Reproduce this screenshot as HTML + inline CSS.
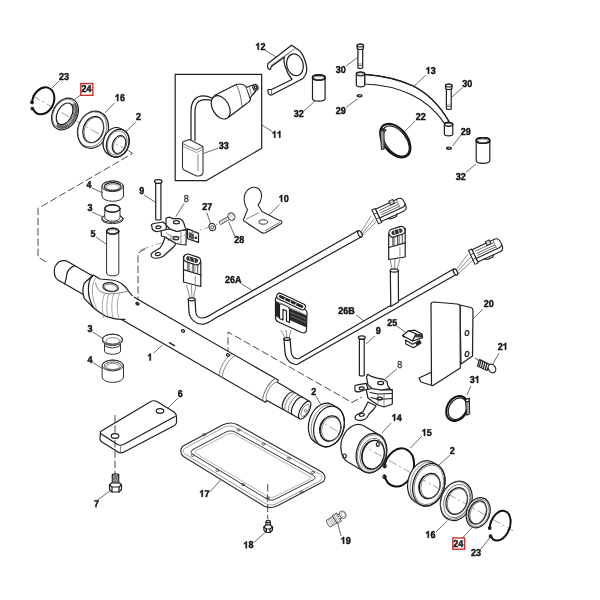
<!DOCTYPE html>
<html><head><meta charset="utf-8"><style>
html,body{margin:0;padding:0;background:#fff;overflow:hidden;}
svg{display:block;will-change:transform;}
text{font-family:"Liberation Sans",sans-serif;font-weight:bold;font-size:10px;text-rendering:geometricPrecision;fill:#151515;stroke:#151515;stroke-width:0.45px;letter-spacing:0px;}
.o{fill:none;stroke:#1e1e1e;stroke-width:1.2;stroke-linejoin:round;stroke-linecap:round;}
.ow{fill:#fff;stroke:#1e1e1e;stroke-width:1.2;stroke-linejoin:round;stroke-linecap:round;}
.t{fill:none;stroke:#5a5a5a;stroke-width:0.7;}
.tw{fill:#fff;stroke:#5a5a5a;stroke-width:0.7;}
.l{fill:none;stroke:#3a3a3a;stroke-width:0.75;}
.d{fill:none;stroke:#4a4a4a;stroke-width:1;stroke-dasharray:7.5 2.8;}
.c{fill:none;stroke:#777;stroke-width:0.7;stroke-dasharray:9 3 2 3;}
.k{fill:none;stroke:#111;stroke-width:2;stroke-linecap:round;}
.kw{fill:#fff;stroke:#111;stroke-width:1.8;}
.w{fill:#fff;stroke:none;}
</style></head><body>
<svg width="600" height="600" viewBox="0 0 600 600">
<path d="M32 95.5 L132 153" class="c" />
<path d="M128.5 150.5 L132.5 153.5 L38 208.5 L38 257 L47 262.5" class="d" />
<path d="M145 249 L138 253 L138 301" class="d" />
<path d="M228 355 L228 332 L352 402.5 L362 397" class="d" />
<path d="M300 410 L513 530.8" class="c" />
<g transform="translate(140 315.4) rotate(29.9)">
<path d="M-20 -12.8 L152 -12.8 L152 -10.5 L190 -10 L190 10 L152 10.5 L152 12.8 L-20 12.8 Z" class="w" />
<path d="M-20 -12.8 L152 -12.8 L152.5 -10.5 L190 -10" class="o" stroke-width="1.3"/>
<path d="M-20 12.8 L152 12.8 L152.5 10.5 L190 10" class="o" stroke-width="1.3"/>
<path d="M100 -12.8 A4 12.8 0 0 0 100 12.8" class="t" style="stroke:#777;stroke-width:0.8"/>
<path d="M103.5 -12.8 A4 12.8 0 0 0 103.5 12.8" class="t" style="stroke:#777;stroke-width:0.8"/>
<path d="M150 -12.8 A4 12.8 0 0 0 150 12.8" class="t" style="stroke:#666;stroke-width:0.9"/>
<path d="M152.5 -10.5 A4 10.5 0 0 0 152.5 10.5" class="t" style="stroke:#777;stroke-width:0.8"/>
<path d="M171 -10 A4 10 0 0 0 171 10" class="o" stroke-width="1.1"/>
<path d="M174 -10 A4 10 0 0 0 174 10" class="t" />
<path d="M178 -10 A4 10 0 0 0 178 10" class="t" />
<path d="M181.5 -10 A4 10 0 0 0 181.5 10" class="o" stroke-width="1.1"/>
<ellipse cx="190" cy="0" rx="4.3" ry="10" class="ow"/>
<ellipse cx="190.5" cy="0" rx="2.8" ry="6.8" class="t"/>
<circle cx="191" cy="0" r="1.3" class="t"/>
<ellipse cx="-8" cy="-8.9" rx="1.7" ry="1.2" class="o" style="fill:#555"/>
<ellipse cx="45" cy="-8" rx="1.6" ry="1.2" class="o"/>
<ellipse cx="96" cy="-9.5" rx="1.6" ry="1.2" class="o"/>
<path d="M39 9 L45 9" class="o" stroke-width="1.6"/>
</g>
<path d="M67.2 261.2 L93.5 276.4 L86 296 L58 280 C56.5 279 55.3 277.5 54.8 275.5 C54 272 54.2 268 55.9 265.3 C57.5 262.5 61 260.5 64.5 260.6 C65.5 260.7 66.5 260.9 67.2 261.2 Z" class="ow" stroke-width="1.3"/>
<path d="M74.7 265.6 C70 267.5 67.2 271 66.7 275 C66.3 279 65.2 282 64.7 283.8" class="o" stroke-width="1.6"/>
<path d="M93.3 275 L100 279 C104 279.5 108 279.8 111.7 280 C116 280.5 120 282 123.3 285 C125.5 287 127.5 289 128.3 290.8 L132 295.5 L134 296.5 L134 320.5 L125 319.3 C120 319.3 116 319 113.3 318.3 L106.7 316.7 C101 313.5 96 310 93.3 307.5 L84.2 298.3 C82.8 294 82.6 288 84.2 283.3 Z" class="w" />
<path d="M132 295.5 L128.3 290.8 C127.5 289 125.5 287 123.3 285 C120 282 116 280.5 111.7 280 C108 279.8 104 279.5 100 279 L93.3 275 L84.2 283.3 C82.6 288 82.8 294 84.2 298.3 L93.3 307.5 C96 310 101 313.5 106.7 316.7 L113.3 318.3 C116 319 120 319.3 125 319.3" class="o" stroke-width="1.3"/>
<path d="M93.3 275.3 C87.5 280 86 295 93.3 307.3" class="o" stroke-width="0.9"/>
<path d="M96.5 277.2 C91.5 282 90.5 296 96.8 309.5" class="t" style="stroke:#777;stroke-width:0.65"/>
<path d="M95.5 282.5 C96.3 286.5 97.8 289.8 100 291.3 C104 293.5 108 294 112 293.8 C117 293.5 122 293 128.3 290.8" class="t" style="stroke:#555;stroke-width:0.75"/>
<ellipse cx="110.6" cy="287.2" rx="7.8" ry="4.4" transform="rotate(10 110.6 287.2)" class="ow" stroke-width="1.3"/>
<ellipse cx="110.8" cy="287.7" rx="6.4" ry="3.3" transform="rotate(10 110.8 287.7)" class="t" />
<path d="M104.5 293.8 C101.7 300 101.7 311 103.7 318" class="t" style="stroke:#777;stroke-width:0.65"/>
<path d="M109 293.8 C106.2 300 106.2 311 108.2 318" class="t" style="stroke:#777;stroke-width:0.65"/>
<path d="M114 293.8 C111.2 300 111.2 311 113.2 318" class="t" style="stroke:#777;stroke-width:0.65"/>
<path d="M119.5 293.8 C116.7 300 116.7 311 118.7 318" class="t" style="stroke:#777;stroke-width:0.65"/>
<g transform="translate(43.2 100.8) rotate(24)">
<path d="M-9.27 6.57 A10.5 14 0 1 1 -6.17 11.33" class="k" />
<circle cx="-9.6" cy="6" r="1.3" class="o" stroke-width="1"/>
<circle cx="-6.8" cy="11.6" r="1.3" class="o" stroke-width="1"/>
</g>
<ellipse cx="65" cy="114" rx="12.3" ry="16.8" transform="rotate(28 65 114)" class="ow" stroke-width="1.8"/>
<ellipse cx="64.5" cy="113.7" rx="11" ry="15.4" transform="rotate(28 64.5 113.7)" class="t" />
<path d="M72.44 104.36 A8.05 12.45 28 0 1 57.46 123.64" class="o" style="stroke:#2a2a2a;stroke-width:0.75"/>
<path d="M73.37 103.94 A8.9 13.3 28 0 1 57.23 124.46" class="o" style="stroke:#2a2a2a;stroke-width:0.75"/>
<path d="M74.29 103.52 A9.75 14.15 28 0 1 57.01 125.28" class="o" style="stroke:#2a2a2a;stroke-width:0.75"/>
<path d="M75.22 103.1 A10.6 15 28 0 1 56.78 126.1" class="o" style="stroke:#2a2a2a;stroke-width:0.75"/>
<ellipse cx="64.6" cy="113.8" rx="7.2" ry="11.6" transform="rotate(28 64.6 113.8)" class="o" stroke-width="1.1"/>
<ellipse cx="93" cy="129.7" rx="15" ry="19" transform="rotate(20 93 129.7)" class="ow" stroke-width="1.5"/>
<ellipse cx="92.2" cy="129.3" rx="14" ry="18" transform="rotate(20 92.2 129.3)" class="t" />
<ellipse cx="93.2" cy="129.6" rx="10" ry="13.5" transform="rotate(20 93.2 129.6)" class="o" />
<ellipse cx="94" cy="130" rx="9.5" ry="13" transform="rotate(20 94 130)" class="t" />
<path d="M111.92 156.21 L108.62 154.51 A11 14.3 20 0 1 120.38 128.49 L123.68 130.19 A11 14.3 20 0 1 111.92 156.21 Z" class="ow" stroke-width="1.5"/>
<ellipse cx="117.8" cy="143.2" rx="11" ry="14.3" transform="rotate(20 117.8 143.2)" class="o" stroke-width="1.5"/>
<ellipse cx="117.2" cy="142.9" rx="9.5" ry="12.5" transform="rotate(20 117.2 142.9)" class="t" />
<ellipse cx="119" cy="144.6" rx="6.4" ry="9.3" transform="rotate(20 119 144.6)" class="o" stroke-width="1.2"/>
<ellipse cx="119.8" cy="145" rx="6" ry="8.8" transform="rotate(20 119.8 145)" class="t" />
<path d="M123.5 186.3 L123.5 196 A10.8 5.3 0 0 1 101.9 196 L101.9 186.3 A10.8 5.3 0 0 1 123.5 186.3 Z" class="ow" style="stroke:#333;stroke-width:1"/>
<ellipse cx="112.7" cy="186.3" rx="10.8" ry="5.3" transform="rotate(0 112.7 186.3)" class="o" style="stroke:#333;stroke-width:1"/>
<ellipse cx="112.7" cy="186.7" rx="8.5" ry="4" transform="rotate(0 112.7 186.7)" class="o" style="stroke:#222;stroke-width:1.2"/>
<ellipse cx="112.7" cy="187.1" rx="6.7" ry="3.1" transform="rotate(0 112.7 187.1)" class="t" />
<path d="M122.9 218.4 L122.9 219.6 A10.5 4 0 0 1 101.9 219.6 L101.9 218.4 A10.5 4 0 0 1 122.9 218.4 Z" class="ow" style="stroke:#333;stroke-width:1"/>
<ellipse cx="112.4" cy="218.4" rx="10.5" ry="4" transform="rotate(0 112.4 218.4)" class="o" style="stroke:#333;stroke-width:1"/>
<path d="M120 208.5 L120 217.5 A7.6 3.7 0 0 1 104.8 217.5 L104.8 208.5 A7.6 3.7 0 0 1 120 208.5 Z" class="ow" style="stroke:#333;stroke-width:1"/>
<ellipse cx="112.4" cy="208.5" rx="7.6" ry="3.7" transform="rotate(0 112.4 208.5)" class="o" style="stroke:#333;stroke-width:1"/>
<ellipse cx="112.4" cy="208.5" rx="7.6" ry="3.7" transform="rotate(0 112.4 208.5)" class="o" style="stroke:#222;stroke-width:1.2"/>
<path d="M118.8 231.2 L118.8 273 A6.1 2.9 0 0 1 106.6 273 L106.6 231.2 A6.1 2.9 0 0 1 118.8 231.2 Z" class="ow" style="stroke:#333;stroke-width:1"/>
<ellipse cx="112.7" cy="231.2" rx="6.1" ry="2.9" transform="rotate(0 112.7 231.2)" class="o" style="stroke:#333;stroke-width:1"/>
<ellipse cx="112.7" cy="231.2" rx="6.1" ry="2.9" transform="rotate(0 112.7 231.2)" class="o" style="stroke:#1a1a1a;stroke-width:1.5"/>
<ellipse cx="112.7" cy="231.6" rx="4.5" ry="1.9" transform="rotate(0 112.7 231.6)" class="t" />
<path d="M175.2 74.4 L261.7 74.4 L261.7 148.3 L206.5 180.6 L175.2 180.6 Z" class="o" stroke-width="1.4"/>
<path d="M212 98 C205 95 198.5 95.5 194.5 99.5 C191.8 102.5 191 106 191 112 L191 141.5" class="o" stroke-width="1"/>
<path d="M212.5 100.5 C206 99 200.5 99.5 197.5 102.5 C195.5 105 195 108 195 113 L195 140.5" class="o" stroke-width="1"/>
<path d="M214.5 95.5 L236 84.5 C240 83.5 244 84 246.5 87.5 L250.5 99.5 C249.5 102 248 103 246 104 L229 117 Z" class="ow" stroke-width="1.1"/>
<path d="M236 84.5 C239.5 90 241.5 99 242 107.5" class="t" style="stroke:#444;stroke-width:0.8"/>
<path d="M246.5 87.5 L250 86 L253.5 85 L255.5 91.5 L252.5 95 L250.5 97.5" class="ow" stroke-width="1"/>
<path d="M249.5 86.5 L251.5 96" class="t" />
<ellipse cx="255.4" cy="87.4" rx="2.5" ry="3.1" transform="rotate(-20 255.4 87.4)" class="ow" stroke-width="1"/>
<ellipse cx="255.6" cy="87.4" rx="1.1" ry="1.5" transform="rotate(-20 255.6 87.4)" class="o" stroke-width="0.9"/>
<ellipse cx="220.7" cy="107.3" rx="8.2" ry="12.6" transform="rotate(-30 220.7 107.3)" class="ow" stroke-width="1.1"/>
<path d="M183.5 141.5 L189.5 139.5 L203 146.5 L203 172 C203 174.5 201 176 198 176 L196.5 176 L184 170 C183 169.5 182.5 168.5 182.5 167 L182.5 143 C182.5 142.3 183 141.7 183.5 141.5 Z" class="ow" style="stroke:#333;stroke-width:1.1"/>
<path d="M182.5 143.5 L196.5 150 L203 146.5" class="t" style="stroke:#444;stroke-width:0.8"/>
<path d="M183 146.3 L196.5 152.6 L203 149.3" class="t" style="stroke:#777;stroke-width:0.7"/>
<path d="M198 154 L198 171" class="t" style="stroke:#777;stroke-width:0.9"/>
<path d="M268 63.5 L291.5 45.3 L298 49.5 C301 51.5 304 56 306 64 C307.5 70 307 73.5 303 78.5 L271.5 95 C269.5 95.5 268 93.5 268 91.5 L268 89.5 L271.5 89.5 L292 79.5 C289.5 76.5 286.5 71 285 66 C283.8 62 283.5 59.5 284.5 57 L271 66.8 L270.5 69.5 C268.5 69.8 267.5 68 267.5 66.5 Z" class="ow" stroke-width="1.2"/>
<path d="M271 65.5 L295.5 48.2 L298 49.5" class="t" style="stroke:#555;stroke-width:0.8"/>
<path d="M271.5 89.5 L271.5 95" class="t" style="stroke:#555;stroke-width:0.8"/>
<ellipse cx="295" cy="64.8" rx="8.2" ry="11" transform="rotate(-14 295 64.8)" class="o" stroke-width="1.2"/>
<path d="M284.5 57 C286 55 287.5 54 289 53.8" class="t" />
<path d="M325.1 77.5 L325.1 98.5 A6.3 2.6 0 0 1 312.5 98.5 L312.5 77.5 A6.3 2.6 0 0 1 325.1 77.5 Z" class="ow" />
<ellipse cx="318.8" cy="77.5" rx="6.3" ry="2.6" transform="rotate(0 318.8 77.5)" class="o" />
<ellipse cx="318.8" cy="77.5" rx="6.3" ry="2.6" transform="rotate(0 318.8 77.5)" class="o" style="stroke:#1a1a1a;stroke-width:1.5"/>
<ellipse cx="318.8" cy="77.9" rx="4.6" ry="1.7" transform="rotate(0 318.8 77.9)" class="t" />
<path d="M489.8 140.5 L489.8 160.5 A6.8 2.8 0 0 1 476.2 160.5 L476.2 140.5 A6.8 2.8 0 0 1 489.8 140.5 Z" class="ow" />
<ellipse cx="483" cy="140.5" rx="6.8" ry="2.8" transform="rotate(0 483 140.5)" class="o" />
<ellipse cx="483" cy="140.5" rx="6.8" ry="2.8" transform="rotate(0 483 140.5)" class="o" style="stroke:#1a1a1a;stroke-width:1.6"/>
<ellipse cx="483" cy="140.9" rx="5" ry="1.9" transform="rotate(0 483 140.9)" class="t" />
<path d="M362.7 48 L362.7 67.5 A2.4 1 0 0 1 357.9 67.5 L357.9 48 A2.4 1 0 0 1 362.7 48 Z" class="ow" />
<ellipse cx="360.3" cy="48" rx="2.4" ry="1" transform="rotate(0 360.3 48)" class="o" />
<path d="M363.5 45.5 L363.5 48 A3.2 1.5 0 0 1 357.1 48 L357.1 45.5 A3.2 1.5 0 0 1 363.5 45.5 Z" class="ow" />
<ellipse cx="360.3" cy="45.5" rx="3.2" ry="1.5" transform="rotate(0 360.3 45.5)" class="o" />
<path d="M358 64 L362.6 64 M358 65.5 L362.6 65.5" class="t" />
<path d="M451.2 88 L451.2 108.5 A2.4 1 0 0 1 446.4 108.5 L446.4 88 A2.4 1 0 0 1 451.2 88 Z" class="ow" />
<ellipse cx="448.8" cy="88" rx="2.4" ry="1" transform="rotate(0 448.8 88)" class="o" />
<path d="M452 85.5 L452 88 A3.2 1.5 0 0 1 445.6 88 L445.6 85.5 A3.2 1.5 0 0 1 452 85.5 Z" class="ow" />
<ellipse cx="448.8" cy="85.5" rx="3.2" ry="1.5" transform="rotate(0 448.8 85.5)" class="o" />
<path d="M446.5 105 L451 105 M446.5 106.5 L451 106.5" class="t" />
<ellipse cx="359.6" cy="95.8" rx="3.1" ry="1.7" transform="rotate(0 359.6 95.8)" class="w" style="fill:#2a2a2a"/>
<ellipse cx="359.9" cy="95.6" rx="1.3" ry="0.6" transform="rotate(0 359.9 95.6)" class="w" style="fill:#bbb"/>
<ellipse cx="449" cy="148.3" rx="3.1" ry="1.7" transform="rotate(0 449 148.3)" class="w" style="fill:#2a2a2a"/>
<ellipse cx="449.3" cy="148.1" rx="1.3" ry="0.6" transform="rotate(0 449.3 148.1)" class="w" style="fill:#bbb"/>
<path d="M364.7 74.3 C380 75.5 398 79 412 85.5 C428 93 440 106 449 121.5 L444.5 123.3 C436 111 425 101 411 94.5 C397 88 380 84.5 364.7 84 Z" class="ow" stroke-width="0.9"/>
<path d="M364.7 74.3 C380 75.5 398 79 412 85.5 C428 93 440 106 449 121.5" class="o" stroke-width="1.7"/>
<path d="M364.7 74 L364.7 85 A4.2 1.8 0 0 1 356.3 85 L356.3 74 A4.2 1.8 0 0 1 364.7 74 Z" class="ow" />
<ellipse cx="360.5" cy="74" rx="4.2" ry="1.8" transform="rotate(0 360.5 74)" class="o" />
<ellipse cx="360.5" cy="74" rx="3" ry="1.2" transform="rotate(0 360.5 74)" class="t" />
<path d="M452.8 124.5 L452.8 134 A4.2 1.8 0 0 1 444.4 134 L444.4 124.5 A4.2 1.8 0 0 1 452.8 124.5 Z" class="ow" />
<ellipse cx="448.6" cy="124.5" rx="4.2" ry="1.8" transform="rotate(0 448.6 124.5)" class="o" />
<ellipse cx="448.6" cy="124.5" rx="3" ry="1.2" transform="rotate(0 448.6 124.5)" class="t" />
<ellipse cx="395.3" cy="140.6" rx="19.3" ry="12" transform="rotate(52 395.3 140.6)" class="k" stroke-width="1.6"/>
<ellipse cx="395.8" cy="141" rx="17.5" ry="10.3" transform="rotate(52 395.8 141)" class="o" stroke-width="0.9"/>
<path d="M408.74 142.13 A18.4 11.1 52 0 1 386.75 147.63" class="o" stroke-width="0.8"/>
<path d="M380.3 131 L384 130 L384.2 149 L381.5 149.5 Z" class="w" style="fill:#999;stroke:#222;stroke-width:1"/>
<path d="M380.5 131 L383 128.5 L386 130 L384 132" class="o" stroke-width="1"/>
<path d="M160.9 182.5 L160.9 219 A2.6 1 0 0 1 155.7 219 L155.7 182.5 A2.6 1 0 0 1 160.9 182.5 Z" class="ow" />
<ellipse cx="158.3" cy="182.5" rx="2.6" ry="1" transform="rotate(0 158.3 182.5)" class="o" />
<ellipse cx="158.3" cy="181.5" rx="3.7" ry="1.8" transform="rotate(0 158.3 181.5)" class="ow" />
<path d="M165 237 L171 240.5 L176 243.5 L174 246.5 L168 252 L163.5 256 C161 258 156 258.8 153 257.8 C150.5 256.8 150.5 254 152.5 252.5 L160 248 L163 243 Z" class="ow" stroke-width="1.3"/>
<ellipse cx="157.9" cy="254.1" rx="2.5" ry="1.5" transform="rotate(-10 157.9 254.1)" class="o" stroke-width="1"/>
<path d="M161 230 L166 229.5 L170 229 L177 231.5 L186.3 229.4 L186 245 L181 244.5 L176 243.5 L171 240.5 L165 237 L161.5 236 Z" class="ow" stroke-width="1.3"/>
<path d="M166 233 L171 236 L178 237 M171 236 L171 240.5 M181 232 L181 244.5" class="t" />
<ellipse cx="176" cy="238.2" rx="2.8" ry="1.6" transform="rotate(0 176 238.2)" class="o" stroke-width="1"/>
<path d="M187.6 228.9 L198.5 233.4 L198.5 242.4 L187.6 238.8 Z" class="ow" stroke-width="1.3"/>
<path d="M189 232 L194 234 L194 240 L189 238 Z" class="w" style="fill:#555"/>
<ellipse cx="195.8" cy="237.8" rx="1.3" ry="1.3" transform="rotate(0 195.8 237.8)" class="w" style="fill:#222"/>
<path d="M152 226.5 C150.5 225.5 151.5 224 154 223.5 L163 222 L166.5 225 L166 229.5 L158 231.5 C155 231.8 152 230 152 228 Z" class="ow" stroke-width="1.3"/>
<ellipse cx="158.4" cy="227.3" rx="2.5" ry="1.4" transform="rotate(-8 158.4 227.3)" class="o" stroke-width="1"/>
<path d="M166 218 L169.5 217.2 L173 218.6 L179.5 218.6 L182.7 220.8 L184 223.5 L185 227 L186.3 229.4 L177 231.5 L170 229 L166 225 Z" class="ow" stroke-width="1.3"/>
<ellipse cx="176.4" cy="222.3" rx="3" ry="1.6" transform="rotate(0 176.4 222.3)" class="o" stroke-width="1"/>
<path d="M140 250 L220 223.3" class="c" />
<ellipse cx="212.3" cy="227" rx="3.1" ry="3.7" transform="rotate(-20 212.3 227)" class="ow" style="stroke:#3a3a3a;stroke-width:1.2"/>
<ellipse cx="212.4" cy="227.2" rx="1.3" ry="1.7" transform="rotate(-20 212.4 227.2)" class="o" style="stroke:#555;stroke-width:0.9"/>
<path d="M219.3 221.6 L228.3 216.4 L229.9 219.2 L220.9 224.4 Z" class="ow" style="stroke:#444;stroke-width:0.9"/>
<path d="M221.5 220.4 L223 223.2 M223.5 219.2 L225 222 M225.5 218 L227 220.8" class="t" style="stroke:#666;stroke-width:0.7"/>
<ellipse cx="231.5" cy="216.6" rx="3.3" ry="3.9" transform="rotate(-30 231.5 216.6)" class="ow" style="stroke:#444;stroke-width:1"/>
<path d="M229.5 214.5 L233.5 218.8 M231.3 213.3 L233.8 216.6" class="t" style="stroke:#777;stroke-width:0.6"/>
<path d="M247.5 209.5 C244 205 243.5 198 245 194 C247 189 251.5 186.5 256 187.5 C260 188.5 262 193 261.5 197 C261 201 259.5 203.5 258 205 L262 211.5 L279 220.3 C281.5 220 282.5 221.5 281.5 223.5 L266 232.5 C264 233.5 262 233 260.5 232 L244 221 C243 220 243.2 219 244 218.5 L247.5 209.5 Z" class="ow" style="stroke:#2a2a2a;stroke-width:1.1"/>
<path d="M246.3 219 L259.2 212.7" class="t" />
<path d="M265 230.8 L280 222.2" class="t" style="stroke:#555;stroke-width:0.8"/>
<ellipse cx="263.3" cy="222" rx="4.4" ry="2.2" transform="rotate(0 263.3 222)" class="o" style="stroke:#333;stroke-width:1"/>
<path d="M188.3 299.5 L189 312 C189.5 319 196 324.5 203.5 324.2 C208 323.8 214 318.5 220.4 315.4 L361 237 L358.3 230.5 L217.5 310.75 C212 314 207 317.8 202.3 318 C198.5 318.2 196 315.5 195.8 312 L195 299.5 Z" class="ow" />
<ellipse cx="191.7" cy="299.3" rx="3.4" ry="1.5" transform="rotate(0 191.7 299.3)" class="ow" />
<path d="M190 298.5 L186.5 285 M192 298.5 L191.5 285 M193.5 298.5 L196 285" class="t" />
<path d="M183.5 256.3 L183.5 282 L200.8 286.5 L200.8 261.7 Z" class="ow" stroke-width="1.2"/>
<rect x="183.5" y="255.5" width="17.3" height="8" rx="4" transform="rotate(17.34 192.15 259.5)" class="ow" stroke-width="1.2"/>
<rect x="186" y="257.3" width="12.3" height="4.4" rx="2.2" transform="rotate(17.34 192.15 259.5)" style="fill:#333;stroke:none"/>
<path d="M189.13 256.74 L190.33 260.74" class="w" style="stroke:#ccc;stroke-width:1"/>
<path d="M193.63 258.15 L194.83 262.15" class="w" style="stroke:#ccc;stroke-width:1"/>
<path d="M188 262.2 L188 270.5" class="w" style="stroke:#222;stroke-width:1.1"/>
<path d="M189.73 262.74 L189.73 271.04" class="w" style="stroke:#666;stroke-width:0.7"/>
<path d="M193.02 263.77 L193.02 272.07" class="w" style="stroke:#222;stroke-width:1.1"/>
<path d="M194.92 264.36 L194.92 272.66" class="w" style="stroke:#666;stroke-width:0.7"/>
<path d="M197.69 265.23 L197.69 273.53" class="w" style="stroke:#333;stroke-width:0.9"/>
<path d="M183.5 269.6 L200.8 275" class="o" stroke-width="1.3"/>
<path d="M195.26 275.77 L195.26 283.56" class="t" />
<ellipse cx="360" cy="233.8" rx="1.8" ry="3.4" transform="rotate(-30 360 233.8)" class="ow" />
<path d="M361 232 L371 216 M362 234 L374 219 M362 236 L376 222" class="t" />
<g transform="translate(389.5 210) rotate(-25) scale(0.88)">
<path d="M-14 -7.5 L14 -7.5 C17.5 -7.5 19 -5 19 -1 L19 2 C19 6 17 8 14 8 L-14 8 Z" class="ow" stroke-width="1.2"/>
<path d="M-14 3.5 L15 3.5 C17 3.5 18.5 2.5 19 1" class="o" stroke-width="0.9"/>
<path d="M-11 -4.5 L12 -4.5 M-11 -1.5 L12 -1.5 M-11 1 L12 1" class="t" style="stroke:#444;stroke-width:0.8"/>
<path d="M12 -7.5 L12 3.5" class="t" />
<path d="M-18 -8.5 L-14 -8.5 L-14 9 L-18 9 Z" class="ow" stroke-width="1.2"/>
<path d="M-18 -3 L-14 -3 M-18 3 L-14 3" class="t" style="stroke:#333;stroke-width:0.9"/>
<path d="M3 -10 L9 -10 L9 -4 L3 -4 Z" class="w" style="fill:#2a2a2a"/>
<path d="M4.2 -9 L7.8 -9 L7.8 -5 L4.2 -5 Z" class="w" style="fill:#ccc"/>
<path d="M-6 8 L-2 10 L4 10 L6 8" class="o" stroke-width="0.8"/>
</g>
<path d="M284 339 L285 352 C285.5 359 290 364.5 297 364.5 L457.5 273.8 L453.5 269.1 L299 358.5 C295 359.5 291.5 357 291.2 352 L290 339 Z" class="ow" />
<ellipse cx="455.5" cy="272" rx="1.8" ry="3.3" transform="rotate(-30 455.5 272)" class="ow" />
<path d="M456 270 L468 254 M457 272 L471 257 M458 274 L473 260" class="t" />
<g transform="translate(486 250.5) rotate(-25) scale(0.88)">
<path d="M-14 -7.5 L14 -7.5 C17.5 -7.5 19 -5 19 -1 L19 2 C19 6 17 8 14 8 L-14 8 Z" class="ow" stroke-width="1.2"/>
<path d="M-14 3.5 L15 3.5 C17 3.5 18.5 2.5 19 1" class="o" stroke-width="0.9"/>
<path d="M-11 -4.5 L12 -4.5 M-11 -1.5 L12 -1.5 M-11 1 L12 1" class="t" style="stroke:#444;stroke-width:0.8"/>
<path d="M12 -7.5 L12 3.5" class="t" />
<path d="M-18 -8.5 L-14 -8.5 L-14 9 L-18 9 Z" class="ow" stroke-width="1.2"/>
<path d="M-18 -3 L-14 -3 M-18 3 L-14 3" class="t" style="stroke:#333;stroke-width:0.9"/>
<path d="M3 -10 L9 -10 L9 -4 L3 -4 Z" class="w" style="fill:#2a2a2a"/>
<path d="M4.2 -9 L7.8 -9 L7.8 -5 L4.2 -5 Z" class="w" style="fill:#ccc"/>
<path d="M-6 8 L-2 10 L4 10 L6 8" class="o" stroke-width="0.8"/>
</g>
<ellipse cx="287" cy="339" rx="3.2" ry="1.4" transform="rotate(0 287 339)" class="ow" />
<path d="M285 338 L281 330 M287 338 L286 330 M289 338 L291 330" class="t" />
<path d="M390.3 270.5 L390.8 306.5 L398.5 302 L398.3 270.5 Z" class="ow" />
<ellipse cx="394.3" cy="270.5" rx="4" ry="1.6" transform="rotate(0 394.3 270.5)" class="ow" />
<path d="M392 269.5 L390 259 M394.5 269.5 L395 259 M397 269.5 L400 259" class="t" />
<path d="M388.7 233.9 L388.7 259.5 L405.2 257 L405.2 228.6 Z" class="ow" stroke-width="1.2"/>
<rect x="388.7" y="227.75" width="16.5" height="8" rx="4" transform="rotate(-17.81 396.95 231.75)" class="ow" stroke-width="1.2"/>
<rect x="391.2" y="229.55" width="11.5" height="4.4" rx="2.2" transform="rotate(-17.81 396.95 231.75)" style="fill:#333;stroke:none"/>
<path d="M394.04 230.49 L395.24 234.49" class="w" style="stroke:#ccc;stroke-width:1"/>
<path d="M398.33 229.11 L399.53 233.11" class="w" style="stroke:#ccc;stroke-width:1"/>
<path d="M392.99 237.02 L392.99 245.8" class="w" style="stroke:#222;stroke-width:1.1"/>
<path d="M394.64 236.49 L394.64 245.34" class="w" style="stroke:#666;stroke-width:0.7"/>
<path d="M397.77 235.49 L397.77 244.47" class="w" style="stroke:#222;stroke-width:1.1"/>
<path d="M399.59 234.9 L399.59 243.96" class="w" style="stroke:#666;stroke-width:0.7"/>
<path d="M402.23 234.05 L402.23 243.23" class="w" style="stroke:#333;stroke-width:0.9"/>
<path d="M388.7 247.5 L405.2 242.9" class="o" stroke-width="1.3"/>
<path d="M399.92 246.87 L399.92 256.3" class="t" />
<path d="M275.5 300 C275 298 276.5 296.5 278.5 297.5 L305 309.5 C306.5 310.2 307 311.5 307 313 L306.5 329.5 C306.5 332.5 304.5 333.5 301.5 332.5 L278.5 322 C276.5 321 275.5 319.5 275.5 318 Z" class="ow" stroke-width="1.2"/>
<path d="M275.8 301 L279.5 302.8 L279.5 318 L276 316.5 Z" class="w" style="fill:#262626"/>
<path d="M289 308 L306.8 315.5 L306.6 327.5 L289.5 320 Z" class="w" style="fill:#2a2a2a"/>
<path d="M291 312.5 L306 319 M291 316 L306 322.5" class="t" style="stroke:#9a9a9a;stroke-width:0.6"/>
<path d="M279.5 318.5 L279.5 305.5 C279.5 304 280.5 303.5 282 304 L287.5 306.5 C289 307.2 289.5 308 289.5 309.5 L289.5 322.5 L286.5 321.2 L286.5 311 L283 309.4 L283 320 Z" class="ow" stroke-width="0.9"/>
<path d="M279.8 296.3 L302.3 306.8" class="w" style="stroke:#1a1a1a;stroke-width:7.2;stroke-linecap:round"/>
<path d="M279.8 296.3 L302.3 306.8" class="w" style="stroke:#fff;stroke-width:5;stroke-linecap:round"/>
<path d="M280.3 296.5 L301.8 306.5" class="w" style="stroke:#222;stroke-width:3;stroke-linecap:round"/>
<path d="M285.3 297.7 L284.3 300.3 M290.8 300.3 L289.8 302.9 M296.3 302.9 L295.3 305.5" class="w" style="stroke:#e5e5e5;stroke-width:1"/>
<path d="M276.5 301.5 L305 314.3" class="t" style="stroke:#777"/>
<path d="M405.5 340 L412.5 344.2 L419.5 340.5 L421 343 L413.5 347.7 L406 344 Z" class="ow" stroke-width="1.2"/>
<path d="M415.5 343 L419.8 340.8 L420.8 342.8 L416.5 345.5 Z" class="w" style="fill:#222"/>
<path d="M402.5 335.5 L408.5 330.8 L415 330.2 L422 334 L422.6 337.6 L412.5 341 Z" class="ow" stroke-width="1.2"/>
<path d="M408.5 330.8 L416 333.8 L412.5 341" class="o" stroke-width="1"/>
<path d="M416 333.8 L422 334 L422.6 337.6 L414.2 337.2 Z" class="w" style="fill:#3a3a3a"/>
<path d="M402.5 335.5 L404 337" class="o" stroke-width="1.6"/>
<path d="M419 378 L432 372 L432 385.5 L421 382 Z" class="ow" stroke-width="1.4"/>
<path d="M460 305 L471 307.5 C472.5 308 473 309 473 310.5 L472.5 356 L461 364 Z" class="ow" stroke-width="1.4"/>
<path d="M431 304 C431 302.5 432 302 434 302 L457 304 C459 304.2 460 305 460 306.5 L460.3 368 L433 385.5 C432 385.8 431.5 385 431.5 384 Z" class="ow" stroke-width="1.5"/>
<ellipse cx="467" cy="333" rx="1.8" ry="2.6" transform="rotate(15 467 333)" class="o" stroke-width="1.1"/>
<ellipse cx="467" cy="354" rx="1.8" ry="2.6" transform="rotate(15 467 354)" class="o" stroke-width="1.1"/>
<path d="M475 358 L479.5 361" class="d" stroke-dasharray="2 2"/>
<path d="M479.5 359.5 L489.5 364.5 L487 370.5 L477.5 366 Z" class="ow" />
<path d="M481 360 L479.5 366 M483 361 L481.5 367 M485 362 L483.5 368 M487 363 L485.5 369" class="o" stroke-width="1"/>
<ellipse cx="492" cy="368.5" rx="3.5" ry="4.5" transform="rotate(-30 492 368.5)" class="ow" />
<ellipse cx="457" cy="408.5" rx="10" ry="13.2" transform="rotate(30 457 408.5)" class="k" stroke-width="1.7"/>
<ellipse cx="457.5" cy="408.8" rx="8.5" ry="11.5" transform="rotate(30 457.5 408.8)" class="o" stroke-width="0.9"/>
<path d="M465.3 400 L469.3 398 L469.8 414 L466.7 415.3 Z" class="w" style="fill:#999;stroke:#222;stroke-width:1"/>
<ellipse cx="467.5" cy="400.3" rx="2" ry="1.4" transform="rotate(-20 467.5 400.3)" class="ow" stroke-width="0.9"/>
<path d="M364.2 338.5 L364.2 375 A2.4 1 0 0 1 359.4 375 L359.4 338.5 A2.4 1 0 0 1 364.2 338.5 Z" class="ow" />
<ellipse cx="361.8" cy="338.5" rx="2.4" ry="1" transform="rotate(0 361.8 338.5)" class="o" />
<ellipse cx="361.8" cy="337.5" rx="3.4" ry="1.7" transform="rotate(0 361.8 337.5)" class="ow" />
<path d="M368 402 L376 405.8 L374 409 L369 414 L367 417.5 C365 420 360 421 357 420 C354.5 419 354.5 416.5 356.5 415 L363 411.5 L366 406 Z" class="ow" stroke-width="1.4"/>
<ellipse cx="361.7" cy="414.8" rx="2.5" ry="1.5" transform="rotate(-10 361.7 414.8)" class="o" stroke-width="1"/>
<path d="M366.2 389.6 L372 388.5 L381 390 L392.3 389.6 L392.3 404 L384 407 L378 405 L372 401 L368 398 Z" class="ow" stroke-width="1.4"/>
<path d="M370 392.5 L378 394 L392.3 393.5 M371 397.5 L378 399.5 L392.3 398.5" class="o" stroke-width="1"/>
<path d="M384 394 L384 407 M378 394 L378 405" class="t" />
<ellipse cx="379.7" cy="398.6" rx="2.6" ry="1.5" transform="rotate(0 379.7 398.6)" class="o" stroke-width="1"/>
<path d="M355 387.5 C354 386 355.5 385 357.5 384.8 L366.2 383.3 L368 388.7 L359 391.9 C356.5 392.2 354.8 391 354.8 389.6 Z" class="ow" stroke-width="1.4"/>
<ellipse cx="361.7" cy="388.3" rx="2.5" ry="1.4" transform="rotate(-8 361.7 388.3)" class="o" stroke-width="1"/>
<path d="M366.5 377 L367.6 374.3 L370.7 376.1 L376.1 377.9 L383.3 379.3 L386.9 381.5 L387.8 385.6 L390 388.7 L381 390 L372 388.5 L368 385 Z" class="ow" stroke-width="1.4"/>
<ellipse cx="380.6" cy="383" rx="3" ry="1.7" transform="rotate(0 380.6 383)" class="o" stroke-width="1"/>
<path d="M120.5 344.5 L120.5 351 A8 3.3 0 0 1 104.5 351 L104.5 344.5 A8 3.3 0 0 1 120.5 344.5 Z" class="ow" style="stroke:#333;stroke-width:1"/>
<ellipse cx="112.5" cy="344.5" rx="8" ry="3.3" transform="rotate(0 112.5 344.5)" class="o" style="stroke:#333;stroke-width:1"/>
<path d="M122.5 339.2 L122.5 340.5 A10 5 0 0 1 102.5 340.5 L102.5 339.2 A10 5 0 0 1 122.5 339.2 Z" class="ow" style="stroke:#333;stroke-width:1"/>
<ellipse cx="112.5" cy="339.2" rx="10" ry="5" transform="rotate(0 112.5 339.2)" class="o" style="stroke:#333;stroke-width:1"/>
<ellipse cx="112.8" cy="341" rx="6.8" ry="3.4" transform="rotate(0 112.8 341)" class="t" />
<path d="M105 343.5 C107 345.5 118 345.5 120 343.5" class="t" />
<path d="M123.5 365.5 L123.5 377 A10.7 5.4 0 0 1 102.1 377 L102.1 365.5 A10.7 5.4 0 0 1 123.5 365.5 Z" class="ow" style="stroke:#333;stroke-width:1"/>
<ellipse cx="112.8" cy="365.5" rx="10.7" ry="5.4" transform="rotate(0 112.8 365.5)" class="o" style="stroke:#333;stroke-width:1"/>
<ellipse cx="112.8" cy="366" rx="8.6" ry="4" transform="rotate(0 112.8 366)" class="t" style="stroke:#444;stroke-width:0.9"/>
<ellipse cx="112.8" cy="366.5" rx="6.6" ry="3" transform="rotate(0 112.8 366.5)" class="t" />
<path d="M100.5 431.5 L150 402 C152.5 400.5 155 400.5 157 401.5 L174 412 C176 413.5 176.5 415 176.5 417 L176.5 422 C176.5 423.5 176 424.5 174.5 425.5 L124 452 C122 453 119.5 453 118 452 L102 442 C100.5 441 100 440 100 438.5 Z" class="ow" />
<path d="M100.5 433.5 L117.5 444.5 C119.5 445.5 121.5 445.5 123.5 444.5 L175 416.5" class="o" stroke-width="1"/>
<path d="M120.5 445.2 L120.5 452.8" class="t" />
<ellipse cx="115" cy="436" rx="3.8" ry="2.3" transform="rotate(0 115 436)" class="o" stroke-width="1"/>
<ellipse cx="160" cy="411" rx="3.8" ry="2.3" transform="rotate(0 160 411)" class="o" stroke-width="1"/>
<path d="M115 415 L115 434 M115 440 L115 476" class="d" stroke-dasharray="4 3"/>
<path d="M112.3 475 L112.3 483.5 L118.7 483.5 L118.7 475" class="ow" stroke-width="1.1"/>
<ellipse cx="115.5" cy="475" rx="3.2" ry="1.1" transform="rotate(0 115.5 475)" class="ow" stroke-width="1"/>
<path d="M112.8 477 L118.2 477 L118.2 483.5 L112.8 483.5 Z" class="w" style="fill:#666"/>
<path d="M112.8 477.5 L118.2 478.1" class="w" style="stroke:#bbb;stroke-width:0.5"/>
<path d="M112.8 478.9 L118.2 479.5" class="w" style="stroke:#bbb;stroke-width:0.5"/>
<path d="M112.8 480.3 L118.2 480.9" class="w" style="stroke:#bbb;stroke-width:0.5"/>
<path d="M112.8 481.7 L118.2 482.3" class="w" style="stroke:#bbb;stroke-width:0.5"/>
<path d="M109.5 485 L111.5 483 L119.5 483 L121.5 485 L121.5 489.5 L119 492 L112 492 L109.5 489.5 Z" class="ow" stroke-width="1.3"/>
<path d="M109.5 485 L112 487 L119 487 L121.5 485" class="o" stroke-width="1.1"/>
<path d="M112 487 L112 492 M119 487 L119 492" class="o" stroke-width="0.9"/>
<path d="M183 446 L223 424.8 C228 422.5 233 422.5 237 424.5 L321 471.5 C325.5 474 326 478 323.5 481.5 L278 505.5 C273 508 268 508 264 506 L183.5 456.5 C180 454 180 448.5 183 446 Z" class="ow" style="stroke:#2a2a2a;stroke-width:1.1"/>
<path d="M185 448.2 L223.5 427.5 C227.5 425.5 232 425.5 235.5 427.5 L319.5 474 C322.5 475.8 322.5 479 320 480.8 L277 503.5 C273 505.5 268.5 505.5 265.5 503.5 L185 454 C182.5 452.5 182.5 449.8 185 448.2 Z" class="t" style="stroke:#777;stroke-width:0.7"/>
<path d="M193 449.5 L226 432 C229 430.5 232 430.5 235 432 L313.5 475.5 C315.5 476.8 315.5 478.5 313.5 479.7 L275.5 499 C272.5 500.5 269.5 500.5 267 499 L193 454.5 C190.5 453 190.5 451 193 449.5 Z" class="o" style="stroke:#333;stroke-width:1"/>
<path d="M196 450.8 L227.5 434.3 C230 433.2 232.5 433.2 235 434.5 L310 476.8 C311.2 477.5 311.2 478.5 310 479.2 L275 496.5 C272.5 497.8 270 497.8 268 496.5 L196 453.5 C194.5 452.6 194.5 451.6 196 450.8 Z" class="t" style="stroke:#888;stroke-width:0.6"/>
<ellipse cx="204" cy="434.7" rx="1.6" ry="1.1" transform="rotate(0 204 434.7)" class="o" style="stroke:#444;stroke-width:0.8"/>
<ellipse cx="238.6" cy="430" rx="1.6" ry="1.1" transform="rotate(0 238.6 430)" class="o" style="stroke:#444;stroke-width:0.8"/>
<ellipse cx="263.5" cy="444" rx="1.6" ry="1.1" transform="rotate(0 263.5 444)" class="o" style="stroke:#444;stroke-width:0.8"/>
<ellipse cx="289" cy="458.2" rx="1.6" ry="1.1" transform="rotate(0 289 458.2)" class="o" style="stroke:#444;stroke-width:0.8"/>
<ellipse cx="313" cy="472.4" rx="1.6" ry="1.1" transform="rotate(0 313 472.4)" class="o" style="stroke:#444;stroke-width:0.8"/>
<ellipse cx="301.7" cy="492.2" rx="1.6" ry="1.1" transform="rotate(0 301.7 492.2)" class="o" style="stroke:#444;stroke-width:0.8"/>
<ellipse cx="267.7" cy="498" rx="1.6" ry="1.1" transform="rotate(0 267.7 498)" class="o" style="stroke:#444;stroke-width:0.8"/>
<ellipse cx="243" cy="484.6" rx="1.6" ry="1.1" transform="rotate(0 243 484.6)" class="o" style="stroke:#444;stroke-width:0.8"/>
<ellipse cx="217.6" cy="470.4" rx="1.6" ry="1.1" transform="rotate(0 217.6 470.4)" class="o" style="stroke:#444;stroke-width:0.8"/>
<ellipse cx="192.7" cy="455.4" rx="1.6" ry="1.1" transform="rotate(0 192.7 455.4)" class="o" style="stroke:#444;stroke-width:0.8"/>
<path d="M267.7 484 L267.7 519" class="d" stroke-dasharray="4 3"/>
<path d="M266 521.5 L266 525.5 L270.4 525.5 L270.4 521.5" class="ow" stroke-width="1.1"/>
<ellipse cx="268.2" cy="521.5" rx="2.2" ry="1.1" transform="rotate(0 268.2 521.5)" class="ow" stroke-width="1"/>
<path d="M266.5 523.5 L269.9 523.5 L269.9 525.5 L266.5 525.5 Z" class="w" style="fill:#666"/>
<path d="M266.5 524 L269.9 524.6" class="w" style="stroke:#bbb;stroke-width:0.5"/>
<path d="M263.9 527 L265.9 525 L270.5 525 L272.5 527 L272.5 530 L270 532.5 L266.4 532.5 L263.9 530 Z" class="ow" stroke-width="1.3"/>
<path d="M263.9 527 L266.4 529 L270 529 L272.5 527" class="o" stroke-width="1.1"/>
<path d="M266.4 529 L266.4 532.5 M270 529 L270 532.5" class="o" stroke-width="0.9"/>
<g transform="translate(336.5 518.5) rotate(-32)">
<path d="M-9.5 -3.8 L-2 -3.8 L-2 3.8 L-9.5 3.8 C-10.5 3.8 -10.8 -3.8 -9.5 -3.8 Z" class="ow" style="stroke:#555;stroke-width:0.9"/>
<path d="M-8 -3.8 L-8 3.8 M-6.5 -3.8 L-6.5 3.8 M-5 -3.8 L-5 3.8 M-3.5 -3.8 L-3.5 3.8" class="t" style="stroke:#999;stroke-width:0.7"/>
<path d="M-2 -4.6 L3 -4.6 L3 4.6 L-2 4.6 Z" class="ow" style="stroke:#555;stroke-width:0.9"/>
<path d="M-0.5 -4.6 L-0.5 4.6 M1.5 -4.6 L1.5 4.6" class="t" style="stroke:#888;stroke-width:0.7"/>
<path d="M3 -2.2 L5 -2.2 L5 2.2 L3 2.2" class="ow" style="stroke:#555;stroke-width:0.9"/>
<ellipse cx="7.3" cy="0" rx="3" ry="3.8" class="ow" style="stroke:#555;stroke-width:0.9"/>
<ellipse cx="7.6" cy="0" rx="1.8" ry="2.6" class="t" style="stroke:#999;stroke-width:0.6"/>
</g>
<path d="M320.85 445.51 L315.65 442.61 A14.8 20.8 17 0 1 331.95 404.59 L337.15 407.49 A14.8 20.8 17 0 1 320.85 445.51 Z" class="ow" stroke-width="1.4"/>
<ellipse cx="329" cy="426.5" rx="14.8" ry="20.8" transform="rotate(17 329 426.5)" class="o" stroke-width="1.4"/>
<path d="M319.21 444.44 A14.8 20.8 17 0 1 331.32 404.81" class="t" />
<ellipse cx="330.5" cy="428.5" rx="10.2" ry="12.9" transform="rotate(17 330.5 428.5)" class="o" stroke-width="1"/>
<path d="M329.08 441.09 A10.2 12.9 17 0 1 324.37 418.88" class="o" stroke-width="2"/>
<ellipse cx="331.2" cy="428.9" rx="9.4" ry="12" transform="rotate(17 331.2 428.9)" class="t" />
<path d="M363.45 471.3 L347.95 462.1 A15 20 15 0 1 364.05 425.9 L379.55 435.1 A15 20 15 0 1 363.45 471.3 Z" class="ow" stroke-width="1.3"/>
<ellipse cx="371.5" cy="453.2" rx="15" ry="20" transform="rotate(15 371.5 453.2)" class="o" stroke-width="1.3"/>
<ellipse cx="371.8" cy="453.5" rx="14" ry="19" transform="rotate(15 371.8 453.5)" class="t" />
<ellipse cx="372.2" cy="454.2" rx="12" ry="16.2" transform="rotate(15 372.2 454.2)" class="t" />
<ellipse cx="373.2" cy="454.8" rx="10.8" ry="14.6" transform="rotate(15 373.2 454.8)" class="o" stroke-width="1"/>
<path d="M370.71 468.67 A10.6 14.4 15 1 1 378.05 441.28" class="o" stroke-width="2.4"/>
<ellipse cx="344.6" cy="456" rx="1.7" ry="2" transform="rotate(0 344.6 456)" class="o" stroke-width="1"/>
<ellipse cx="377.8" cy="444.4" rx="1.5" ry="1.9" transform="rotate(0 377.8 444.4)" class="o" stroke-width="1"/>
<g transform="translate(398 465.7) rotate(18)">
<path d="M-12.6 5.6 A14.5 19.5 0 1 1 -9.8 13.5" class="k" />
<circle cx="-12.6" cy="4.4" r="1.6" class="o" stroke-width="1"/>
<circle cx="-9.4" cy="14.8" r="1.6" class="o" stroke-width="1"/>
</g>
<path d="M420.21 504.7 L415.21 501.9 A15.6 21.8 17 0 1 432.39 462.1 L437.39 464.9 A15.6 21.8 17 0 1 420.21 504.7 Z" class="ow" stroke-width="1.4"/>
<ellipse cx="428.8" cy="484.8" rx="15.6" ry="21.8" transform="rotate(17 428.8 484.8)" class="o" stroke-width="1.4"/>
<path d="M418.65 503.77 A15.6 21.8 17 0 1 431.35 462.23" class="t" />
<ellipse cx="428.8" cy="484.8" rx="14.2" ry="20.2" transform="rotate(17 428.8 484.8)" class="t" />
<ellipse cx="429.7" cy="486" rx="10.2" ry="12.9" transform="rotate(17 429.7 486)" class="o" stroke-width="1"/>
<path d="M428.28 498.59 A10.2 12.9 17 0 1 423.57 476.38" class="o" stroke-width="2"/>
<ellipse cx="430.4" cy="486.4" rx="9.4" ry="12" transform="rotate(17 430.4 486.4)" class="t" />
<ellipse cx="456.3" cy="500.8" rx="15.3" ry="20.2" transform="rotate(20 456.3 500.8)" class="ow" stroke-width="1.5"/>
<ellipse cx="455.6" cy="500.4" rx="14.4" ry="19.3" transform="rotate(20 455.6 500.4)" class="t" />
<ellipse cx="456.8" cy="501" rx="12.6" ry="17.2" transform="rotate(20 456.8 501)" class="t" />
<ellipse cx="456.7" cy="501" rx="10.3" ry="13.7" transform="rotate(20 456.7 501)" class="o" stroke-width="1.1"/>
<ellipse cx="457.5" cy="501.4" rx="9.8" ry="13.2" transform="rotate(20 457.5 501.4)" class="t" />
<ellipse cx="478.2" cy="512.7" rx="11.5" ry="15.5" transform="rotate(20 478.2 512.7)" class="ow" stroke-width="1.7"/>
<ellipse cx="478.5" cy="512.9" rx="10.2" ry="14.1" transform="rotate(20 478.5 512.9)" class="t" />
<ellipse cx="477.6" cy="512.4" rx="8.4" ry="12" transform="rotate(20 477.6 512.4)" class="o" />
<ellipse cx="478.5" cy="512.9" rx="8" ry="11.6" transform="rotate(20 478.5 512.9)" class="t" />
<g transform="translate(500 525.5) rotate(19)">
<path d="M-8.7 6.8 A9.8 15.4 0 1 1 -5.8 12.4" class="k" stroke-width="1.8"/>
<circle cx="-8.9" cy="5.6" r="1.3" class="o" stroke-width="1"/>
<circle cx="-5.4" cy="13.4" r="1.3" class="o" stroke-width="1"/>
</g>
<text transform="translate(59 79.5) scale(0.9 1)" >23</text>
<text transform="translate(81.6 92.1) scale(0.9 1)" >24</text>
<path d="M759 0 L484 0 L484 1036 L131 830 L131 1078 C230 1115 340 1180 420 1260 C470 1310 510 1360 540 1409 L759 1409 Z" transform="translate(115 101) scale(0.004395 -0.004883)" style="fill:#151515;stroke:#151515;stroke-width:0.45px" vector-effect="non-scaling-stroke"/>
<text transform="translate(120.01 101) scale(0.9 1)" >6</text>
<text transform="translate(136 119.5) scale(0.9 1)" >2</text>
<text transform="translate(86.5 188) scale(0.9 1)" >4</text>
<text transform="translate(87.5 211.3) scale(0.9 1)" >3</text>
<text transform="translate(90.5 237) scale(0.9 1)" >5</text>
<text transform="translate(139.3 194.3) scale(0.9 1)" >9</text>
<path d="M759 0 L484 0 L484 1036 L131 830 L131 1078 C230 1115 340 1180 420 1260 C470 1310 510 1360 540 1409 L759 1409 Z" transform="translate(255.5 49.8) scale(0.004395 -0.004883)" style="fill:#151515;stroke:#151515;stroke-width:0.45px" vector-effect="non-scaling-stroke"/>
<text transform="translate(260.51 49.8) scale(0.9 1)" >2</text>
<path d="M759 0 L484 0 L484 1036 L131 830 L131 1078 C230 1115 340 1180 420 1260 C470 1310 510 1360 540 1409 L759 1409 Z" transform="translate(272 137.8) scale(0.004395 -0.004883)" style="fill:#151515;stroke:#151515;stroke-width:0.45px" vector-effect="non-scaling-stroke"/>
<path d="M759 0 L484 0 L484 1036 L131 830 L131 1078 C230 1115 340 1180 420 1260 C470 1310 510 1360 540 1409 L759 1409 Z" transform="translate(277.01 137.8) scale(0.004395 -0.004883)" style="fill:#151515;stroke:#151515;stroke-width:0.45px" vector-effect="non-scaling-stroke"/>
<text transform="translate(218.8 149.3) scale(0.9 1)" >33</text>
<text transform="translate(293.8 117.3) scale(0.9 1)" >32</text>
<text transform="translate(335.8 72.8) scale(0.9 1)" >30</text>
<path d="M759 0 L484 0 L484 1036 L131 830 L131 1078 C230 1115 340 1180 420 1260 C470 1310 510 1360 540 1409 L759 1409 Z" transform="translate(425.8 73.8) scale(0.004395 -0.004883)" style="fill:#151515;stroke:#151515;stroke-width:0.45px" vector-effect="non-scaling-stroke"/>
<text transform="translate(430.81 73.8) scale(0.9 1)" >3</text>
<text transform="translate(335.8 113.8) scale(0.9 1)" >29</text>
<text transform="translate(462.3 86.8) scale(0.9 1)" >30</text>
<text transform="translate(460.8 134.8) scale(0.9 1)" >29</text>
<text transform="translate(415.8 119.8) scale(0.9 1)" >22</text>
<text transform="translate(455.8 179.8) scale(0.9 1)" >32</text>
<text transform="translate(183.8 202.3) scale(0.9 1)" style="fill:#3a3a3a;stroke:#3a3a3a;stroke-width:0.35px;font-weight:normal">8</text>
<text transform="translate(202.3 209.8) scale(0.9 1)" >27</text>
<path d="M759 0 L484 0 L484 1036 L131 830 L131 1078 C230 1115 340 1180 420 1260 C470 1310 510 1360 540 1409 L759 1409 Z" transform="translate(278.8 201.8) scale(0.004395 -0.004883)" style="fill:#151515;stroke:#151515;stroke-width:0.45px" vector-effect="non-scaling-stroke"/>
<text transform="translate(283.81 201.8) scale(0.9 1)" >0</text>
<text transform="translate(234.3 243.3) scale(0.9 1)" >28</text>
<text transform="translate(225 283) scale(0.9 1)" >26A</text>
<text transform="translate(338.3 314) scale(0.9 1)" >26B</text>
<text transform="translate(387.3 326) scale(0.9 1)" >25</text>
<text transform="translate(375.8 333.8) scale(0.9 1)" >9</text>
<text transform="translate(483.8 306.8) scale(0.9 1)" >20</text>
<text transform="translate(497.8 349.8) scale(0.9 1)" >2</text>
<path d="M759 0 L484 0 L484 1036 L131 830 L131 1078 C230 1115 340 1180 420 1260 C470 1310 510 1360 540 1409 L759 1409 Z" transform="translate(502.81 349.8) scale(0.004395 -0.004883)" style="fill:#151515;stroke:#151515;stroke-width:0.45px" vector-effect="non-scaling-stroke"/>
<text transform="translate(397.3 368.4) scale(0.9 1)" style="fill:#3a3a3a;stroke:#3a3a3a;stroke-width:0.35px;font-weight:normal">8</text>
<text transform="translate(469.8 382.8) scale(0.9 1)" >3</text>
<path d="M759 0 L484 0 L484 1036 L131 830 L131 1078 C230 1115 340 1180 420 1260 C470 1310 510 1360 540 1409 L759 1409 Z" transform="translate(474.81 382.8) scale(0.004395 -0.004883)" style="fill:#151515;stroke:#151515;stroke-width:0.45px" vector-effect="non-scaling-stroke"/>
<path d="M759 0 L484 0 L484 1036 L131 830 L131 1078 C230 1115 340 1180 420 1260 C470 1310 510 1360 540 1409 L759 1409 Z" transform="translate(147.5 360.5) scale(0.004395 -0.004883)" style="fill:#151515;stroke:#151515;stroke-width:0.45px" vector-effect="non-scaling-stroke"/>
<text transform="translate(87.5 331.5) scale(0.9 1)" >3</text>
<text transform="translate(87.5 363) scale(0.9 1)" >4</text>
<text transform="translate(177.8 396.8) scale(0.9 1)" >6</text>
<text transform="translate(311.3 394.6) scale(0.9 1)" >2</text>
<path d="M759 0 L484 0 L484 1036 L131 830 L131 1078 C230 1115 340 1180 420 1260 C470 1310 510 1360 540 1409 L759 1409 Z" transform="translate(391.8 420.8) scale(0.004395 -0.004883)" style="fill:#151515;stroke:#151515;stroke-width:0.45px" vector-effect="non-scaling-stroke"/>
<text transform="translate(396.81 420.8) scale(0.9 1)" >4</text>
<path d="M759 0 L484 0 L484 1036 L131 830 L131 1078 C230 1115 340 1180 420 1260 C470 1310 510 1360 540 1409 L759 1409 Z" transform="translate(421.8 435.8) scale(0.004395 -0.004883)" style="fill:#151515;stroke:#151515;stroke-width:0.45px" vector-effect="non-scaling-stroke"/>
<text transform="translate(426.81 435.8) scale(0.9 1)" >5</text>
<text transform="translate(449.8 453.8) scale(0.9 1)" >2</text>
<text transform="translate(94 507) scale(0.9 1)" >7</text>
<path d="M759 0 L484 0 L484 1036 L131 830 L131 1078 C230 1115 340 1180 420 1260 C470 1310 510 1360 540 1409 L759 1409 Z" transform="translate(199.5 496.8) scale(0.004395 -0.004883)" style="fill:#151515;stroke:#151515;stroke-width:0.45px" vector-effect="non-scaling-stroke"/>
<text transform="translate(204.51 496.8) scale(0.9 1)" >7</text>
<path d="M759 0 L484 0 L484 1036 L131 830 L131 1078 C230 1115 340 1180 420 1260 C470 1310 510 1360 540 1409 L759 1409 Z" transform="translate(243.5 548.3) scale(0.004395 -0.004883)" style="fill:#151515;stroke:#151515;stroke-width:0.45px" vector-effect="non-scaling-stroke"/>
<text transform="translate(248.51 548.3) scale(0.9 1)" >8</text>
<path d="M759 0 L484 0 L484 1036 L131 830 L131 1078 C230 1115 340 1180 420 1260 C470 1310 510 1360 540 1409 L759 1409 Z" transform="translate(340.8 543.8) scale(0.004395 -0.004883)" style="fill:#151515;stroke:#151515;stroke-width:0.45px" vector-effect="non-scaling-stroke"/>
<text transform="translate(345.81 543.8) scale(0.9 1)" >9</text>
<path d="M759 0 L484 0 L484 1036 L131 830 L131 1078 C230 1115 340 1180 420 1260 C470 1310 510 1360 540 1409 L759 1409 Z" transform="translate(425.5 537.8) scale(0.004395 -0.004883)" style="fill:#151515;stroke:#151515;stroke-width:0.45px" vector-effect="non-scaling-stroke"/>
<text transform="translate(430.51 537.8) scale(0.9 1)" >6</text>
<text transform="translate(453.2 547) scale(0.9 1)" >24</text>
<text transform="translate(471 556.3) scale(0.9 1)" >23</text>
<rect x="80.8" y="83.5" width="12" height="11.8" fill="none" stroke="#cc2f2c" stroke-width="1.4"/>
<rect x="452.8" y="538" width="11.8" height="11.2" fill="none" stroke="#cc2f2c" stroke-width="1.4"/>
<path d="M59 81 L52 88" class="l"/>
<path d="M80.5 95 L74.5 99.5" class="l"/>
<path d="M114.7 102.7 L105.3 112.7" class="l"/>
<path d="M136 122 L124.7 132.7" class="l"/>
<path d="M92 188 L103 193" class="l"/>
<path d="M92 212 L103 217" class="l"/>
<path d="M96 237 L106 244" class="l"/>
<path d="M144 195 L155.8 202.5" class="l"/>
<path d="M265 50.3 L275.8 56.7" class="l"/>
<path d="M272.3 131.5 L261.5 124.8" class="l"/>
<path d="M218 148.3 L203.3 153.5" class="l"/>
<path d="M303.3 111.7 L315 100.8" class="l"/>
<path d="M346 66 L357.5 57.5" class="l"/>
<path d="M426 75 L413.8 86.3" class="l"/>
<path d="M346 107.5 L357.5 98.8" class="l"/>
<path d="M462.5 87.5 L452 97" class="l"/>
<path d="M461 135 L452.5 146" class="l"/>
<path d="M415 121 L403.8 132.5" class="l"/>
<path d="M466 172.5 L476 163.8" class="l"/>
<path d="M184.2 203.3 L175.8 216.7" class="l"/>
<path d="M206.7 212.5 L210.8 224.2" class="l"/>
<path d="M279.6 204.5 L269 215" class="l"/>
<path d="M234.9 236.2 L228.6 221.8" class="l"/>
<path d="M241.7 284.2 L251.7 290" class="l"/>
<path d="M356 315 L364 321" class="l"/>
<path d="M396.7 326 L405.8 332.5" class="l"/>
<path d="M375 336 L366 344" class="l"/>
<path d="M483 309 L474 318" class="l"/>
<path d="M499 353 L493 364" class="l"/>
<path d="M396.7 369 L385 379" class="l"/>
<path d="M471 386 L467 395" class="l"/>
<path d="M153.3 353.3 L162.5 345" class="l"/>
<path d="M92.5 332 L103 338.5" class="l"/>
<path d="M92.5 362.5 L102.5 368.5" class="l"/>
<path d="M178 398 L168 408" class="l"/>
<path d="M315.8 395.8 L321 405" class="l"/>
<path d="M391 423 L382 433" class="l"/>
<path d="M422 436 L410.5 448" class="l"/>
<path d="M450 455 L438.5 465.5" class="l"/>
<path d="M97.5 500 L110 491" class="l"/>
<path d="M209.7 492.2 L221 479.5" class="l"/>
<path d="M253.8 542.5 L265 532.5" class="l"/>
<path d="M341 536 L337.5 522.5" class="l"/>
<path d="M436 532 L446.7 521.5" class="l"/>
<path d="M462.5 538 L472.3 527.3" class="l"/>
<path d="M480.5 549.5 L489.8 537.8" class="l"/>
<clipPath id="holes"><ellipse cx="64.6" cy="113.8" rx="6.4" ry="10.8" transform="rotate(28 64.6 113.8)"/><ellipse cx="93.2" cy="129.6" rx="9.2" ry="12.7" transform="rotate(20 93.2 129.6)"/><ellipse cx="119" cy="144.6" rx="5.6" ry="8.5" transform="rotate(20 119 144.6)"/><ellipse cx="330.5" cy="428.5" rx="9.4" ry="12.1" transform="rotate(17 330.5 428.5)"/><ellipse cx="373.2" cy="454.8" rx="10" ry="13.8" transform="rotate(15 373.2 454.8)"/><ellipse cx="429.7" cy="486" rx="9.4" ry="12.1" transform="rotate(17 429.7 486)"/><ellipse cx="456.7" cy="501" rx="9.5" ry="12.9" transform="rotate(20 456.7 501)"/><ellipse cx="477.6" cy="512.4" rx="7.6" ry="11.2" transform="rotate(20 477.6 512.4)"/></clipPath>
<g clip-path="url(#holes)"><path d="M32 95.5 L132 153" class="c"/><path d="M300 410 L513 530.8" class="c"/></g>
</svg>
</body></html>
